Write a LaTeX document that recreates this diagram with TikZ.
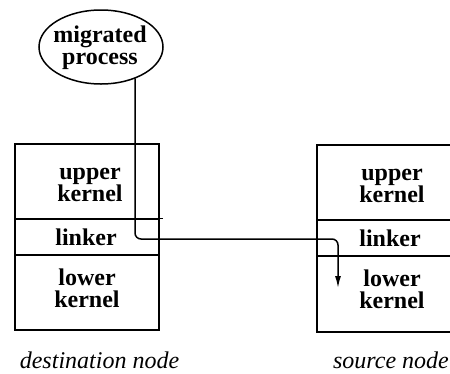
\documentclass[tikz,border=0pt]{standalone}
\usepackage{fontspec}
\setmainfont{Liberation Serif}
\newfontfamily\tms{Liberation Serif}
\usetikzlibrary{shapes.geometric,arrows.meta}
\begin{document}
\begin{tikzpicture}[x=1pt,y=-1pt,line width=1.5pt,
  sect/.style={draw,rectangle,inner sep=0pt,minimum width=#1},
  sect/.default=144,
  lbl/.style={align=center,font=\tms\bfseries\fontsize{24}{22}\selectfont,inner sep=0pt},
  captxt/.style={font=\tms\itshape\fontsize{24}{24}\selectfont,inner sep=0pt}]
\useasboundingbox (0,0) rectangle (450,373);
% migrated process
\node[draw,ellipse,minimum width=124,minimum height=74,inner sep=0pt] (proc) at (101,47) {};
\node[lbl] (proct) at (100,48) {migrated\\process};
% destination node
\node[sect,minimum height=75] (dup) at (87,181.5) {};
\node[sect,minimum height=36] (dlink) at (87,237) {};
\node[sect,minimum height=75] (dlow) at (87,292.5) {};
\draw (dlink.north east) -- ++(3,0);
\node[lbl] (dupt) at (90,185) {upper\\kernel};
\node[lbl] (dlinkt) at (86,237) {linker};
\node[lbl] (dlowt) at (87,288) {lower\\kernel};
% source node
\node[sect=147,minimum height=75] (sup) at (390.5,182.5) {};
\node[sect=147,minimum height=36] (slink) at (390.5,238) {};
\node[sect=147,minimum height=76] (slow) at (390.5,294) {};
\node[lbl] (supt) at (392,186) {upper\\kernel};
\node[lbl] (slinkt) at (390,238) {linker};
\node[lbl] (slowt) at (392,289) {lower\\kernel};
% captions
\node[captxt] (dcap) at (99.5,360) {destination node};
\node[captxt] (scap) at (391,360) {source node};
% connector
\coordinate (c1) at (135,239);
\coordinate (c2) at (338,239);
\coordinate (tip) at (338,288);
\draw[-{Latex[length=12pt,width=6pt]},rounded corners=6] (c1 |- proc.-42) -- (c1) -- (c2) -- (tip);
\end{tikzpicture}
\end{document}
